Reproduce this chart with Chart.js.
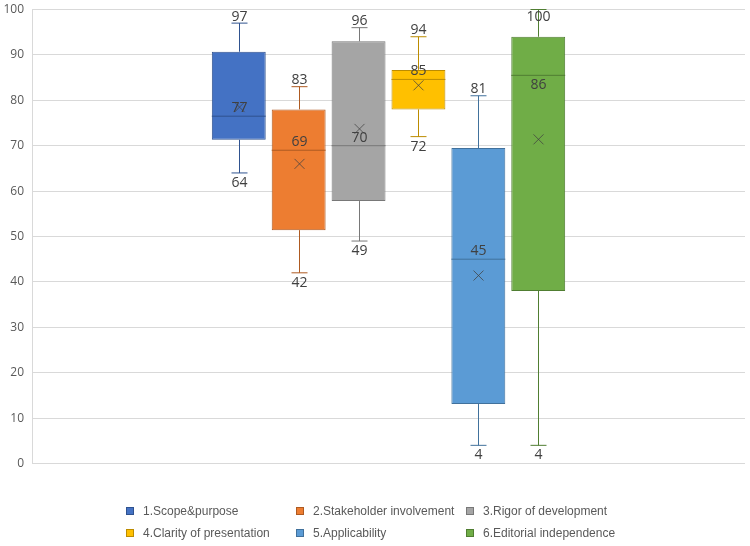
<!DOCTYPE html>
<html>
<head>
<meta charset="utf-8">
<script src="https://cdn.jsdelivr.net/npm/chart.js@4.4.0/dist/chart.umd.min.js"></script>
<style>
  html, body { margin: 0; padding: 0; background: #fff; }
  #wrap { width: 750px; height: 546px; }
</style>
</head>
<body>
<div id="wrap"><canvas id="chart"></canvas></div>
<script>
// Box plot summaries, one entry per domain
const seriesNames = [
  '1.Scope&purpose',
  '2.Stakeholder involvement',
  '3.Rigor of development',
  '4.Clarity of presentation',
  '5.Applicability',
  '6.Editorial independence'
];
const minValues = [64, 42, 49, 72, 4, 4];
const q1Values = [71.3, 51.4, 57.8, 78, 13.1, 38];
const medianValues = [76.5, 69, 70, 84.6, 45, 85.5];
const q3Values = [90.7, 78, 93, 86.7, 69.5, 94];
const maxValues = [97, 83, 96, 94, 81, 100];
const meanValues = [78.5, 66, 73.7, 83.3, 41.4, 71.4];
const yTicks = [0, 10, 20, 30, 40, 50, 60, 70, 80, 90, 100];

const fillColors = ['#4472C4', '#ED7D31', '#A5A5A5', '#FFC000', '#5B9BD5', '#70AD47'];
const lineColors = ['#2F528F', '#AE5A21', '#787878', '#BC8C00', '#41719C', '#507E32'];
// green box has its median label under the line
const medianLabelBelow = [false, false, false, false, false, true];

const labelFont = '14px "Open Sans", "Liberation Sans", sans-serif';

// whiskers, median line, mean cross and value labels
const boxExtras = {
  id: 'boxExtras',
  afterDatasetsDraw(chart) {
    const ctx = chart.ctx;
    const y = chart.scales.y;
    const top = chart.chartArea.top;
    ctx.save();
    seriesNames.forEach((name, i) => {
      const bar = chart.getDatasetMeta(i).data[0];
      const x = Math.round(bar.x) + 0.5;
      const w = bar.width;
      const yMin = y.getPixelForValue(minValues[i]);
      const yQ1 = y.getPixelForValue(q1Values[i]);
      const yMed = y.getPixelForValue(medianValues[i]);
      const yQ3 = y.getPixelForValue(q3Values[i]);
      const yMax = y.getPixelForValue(maxValues[i]);
      const yMean = y.getPixelForValue(meanValues[i]);

      ctx.strokeStyle = lineColors[i];
      ctx.lineWidth = 1;
      ctx.beginPath();
      ctx.moveTo(x, yQ3); ctx.lineTo(x, yMax);
      ctx.moveTo(x - 8, yMax); ctx.lineTo(x + 8, yMax);
      ctx.moveTo(x, yQ1); ctx.lineTo(x, yMin);
      ctx.moveTo(x - 8, yMin); ctx.lineTo(x + 8, yMin);
      ctx.stroke();

      // median
      ctx.beginPath();
      ctx.moveTo(bar.x - w / 2, yMed);
      ctx.lineTo(bar.x + w / 2, yMed);
      ctx.stroke();

      // mean marker
      ctx.strokeStyle = 'rgba(64,64,64,0.75)';
      ctx.beginPath();
      ctx.moveTo(x - 5, yMean - 5); ctx.lineTo(x + 5, yMean + 5);
      ctx.moveTo(x + 5, yMean - 5); ctx.lineTo(x - 5, yMean + 5);
      ctx.stroke();

      // labels
      ctx.fillStyle = '#404040';
      ctx.font = labelFont;
      ctx.textAlign = 'center';
      ctx.textBaseline = 'middle';
      ctx.fillText(Math.round(maxValues[i]), x, Math.max(yMax - 7, top + 8));
      ctx.fillText(Math.round(minValues[i]), x, yMin + 10);
      ctx.fillText(Math.round(medianValues[i]), x, medianLabelBelow[i] ? yMed + 10 : yMed - 8);
    });
    ctx.restore();
  }
};

// Excel style legend laid out in three columns
const columnLegend = {
  id: 'columnLegend',
  afterDraw(chart) {
    const ctx = chart.ctx;
    const colX = [130, 300, 470];
    const rowY = [511, 533];
    ctx.save();
    ctx.font = '12px "Liberation Sans", Arial, sans-serif';
    ctx.textBaseline = 'middle';
    ctx.textAlign = 'left';
    seriesNames.forEach((name, i) => {
      const cx = colX[i % 3];
      const cy = rowY[Math.floor(i / 3)];
      ctx.fillStyle = fillColors[i];
      ctx.fillRect(cx - 4, cy - 4, 8, 8);
      ctx.strokeStyle = lineColors[i];
      ctx.lineWidth = 1;
      ctx.strokeRect(cx - 3.5, cy - 3.5, 7, 7);
      ctx.fillStyle = '#595959';
      ctx.fillText(name, cx + 13, cy + 1);
    });
    ctx.restore();
  }
};

new Chart(document.getElementById('chart'), {
  type: 'bar',
  data: {
    labels: [''],
    datasets: seriesNames.map((name, i) => ({
      label: name,
      data: [[q1Values[i], q3Values[i]]],
      backgroundColor: fillColors[i],
      borderColor: lineColors[i],
      borderWidth: 1,
      borderSkipped: false,
      categoryPercentage: 0.504,
      barPercentage: 0.9
    }))
  },
  options: {
    responsive: true,
    maintainAspectRatio: false,
    animation: false,
    layout: { padding: { top: 9.5, right: 5, bottom: 82.5, left: 0 } },
    plugins: {
      legend: { display: false },
      tooltip: { enabled: false }
    },
    scales: {
      x: { display: false },
      y: {
        min: 0,
        max: 100,
        afterFit: (scale) => {
          scale.width = 32;
          scale.paddingTop = 0;
          scale.paddingBottom = 0;
        },
        afterBuildTicks: (scale) => { scale.ticks = yTicks.map(v => ({ value: v })); },
        grid: { color: '#D9D9D9', drawTicks: false },
        border: { display: true, color: '#D9D9D9' },
        ticks: {
          padding: 8,
          color: '#595959',
          font: { family: '"Open Sans", "Liberation Sans", sans-serif', size: 12 }
        }
      }
    }
  },
  plugins: [boxExtras, columnLegend]
});
</script>
</body>
</html>
